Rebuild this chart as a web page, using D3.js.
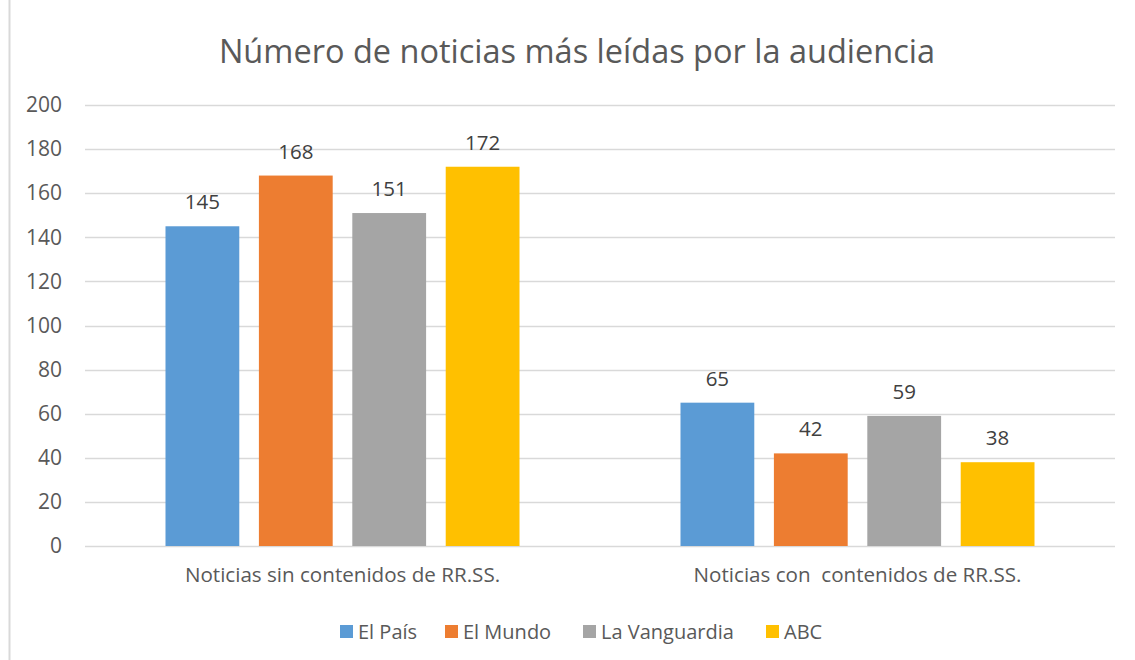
<!DOCTYPE html>
<html><head><meta charset="utf-8">
<script src="https://cdn.jsdelivr.net/npm/d3@7/dist/d3.min.js"></script>
<style>body{margin:0;background:#fff;}svg{display:block;}text{font-family:"Open Sans",sans-serif;white-space:pre;}</style>
</head><body>
<svg id="chart" width="1135" height="660"></svg>
<script>
const categories = ["Noticias sin contenidos de RR.SS.", "Noticias con  contenidos de RR.SS."];
const seriesNames = ["El País", "El Mundo", "La Vanguardia", "ABC"];
const elPais = [145, 65];
const elMundo = [168, 42];
const laVanguardia = [151, 59];
const abc = [172, 38];
const colors = ["#5B9BD5", "#ED7D31", "#A5A5A5", "#FFC000"];
const yTicks = [0, 20, 40, 60, 80, 100, 120, 140, 160, 180, 200];
const title = "Número de noticias más leídas por la audiencia";

(function () {
const seriesValues = [elPais, elMundo, laVanguardia, abc];
const svg = d3.select("#chart");
const W = 1135, H = 660;
const pL = 85, pR = 1115, pT = 105, pB = 546;
const fs = 20;

// left border
svg.append("line").attr("x1", 9.5).attr("x2", 9.5).attr("y1", 0).attr("y2", H)
  .attr("stroke", "#d9d9d9").attr("stroke-width", 2);

const y = d3.scaleLinear().domain([0, 200]).range([pB, pT]);
const x0 = d3.scaleBand().domain(categories).range([pL, pR]).paddingInner(0.3126).paddingOuter(0.1563);
const x1 = d3.scaleBand().domain(seriesNames).range([0, x0.bandwidth()]).paddingInner(0.21).paddingOuter(0);

// gridlines
svg.append("g").selectAll("line").data(yTicks).join("line")
  .attr("x1", pL).attr("x2", pR)
  .attr("y1", d => Math.round(y(d)) + 0.5).attr("y2", d => Math.round(y(d)) + 0.5)
  .attr("stroke", "#d9d9d9").attr("stroke-width", 1.3);

// y axis labels
const yAxis = d3.axisLeft(y).tickValues(yTicks).tickSize(0).tickPadding(0);
const ya = svg.append("g").attr("transform", `translate(62,0)`).call(yAxis);
ya.select(".domain").remove();
ya.selectAll("text").attr("font-size", 21).attr("fill", "#595959").attr("font-family", "'Open Sans',sans-serif");

// bars
const groups = svg.append("g").selectAll("g").data(categories).join("g")
  .attr("transform", c => `translate(${x0(c)},0)`);
groups.each(function(c, ci) {
  const g = d3.select(this);
  seriesNames.forEach((s, si) => {
    const v = seriesValues[si][ci];
    g.append("rect").attr("x", x1(s)).attr("width", x1.bandwidth())
      .attr("y", y(v)).attr("height", y(0) - y(v)).attr("fill", colors[si]);
    g.append("text").attr("x", x1(s) + x1.bandwidth() / 2).attr("y", y(v) - 17)
      .attr("text-anchor", "middle").attr("font-size", 20.5).attr("fill", "#404040").text(v);
  });
});

// x axis labels
const xAxis = d3.axisBottom(x0).tickSize(0).tickPadding(0);
const xa = svg.append("g").attr("transform", `translate(0,${pB + 21})`).call(xAxis);
xa.select(".domain").remove();
xa.selectAll("text").attr("font-size", 20.6).attr("fill", "#595959").attr("font-family", "'Open Sans',sans-serif").attr("dy", "0.71em")
  .style("white-space", "pre");

// title
svg.append("text").attr("x", 577).attr("y", 63).attr("text-anchor", "middle")
  .attr("font-size", 32.5).attr("fill", "#595959").text(title);

// legend
const legendX = [340, 445, 583, 766];
const lg = svg.append("g");
seriesNames.forEach((s, i) => {
  lg.append("rect").attr("x", legendX[i]).attr("y", 625).attr("width", 13).attr("height", 13).attr("fill", colors[i]);
  lg.append("text").attr("x", legendX[i] + 18).attr("y", 639).attr("font-size", fs).attr("fill", "#595959").text(s);
});
})();
</script>
</body></html>
